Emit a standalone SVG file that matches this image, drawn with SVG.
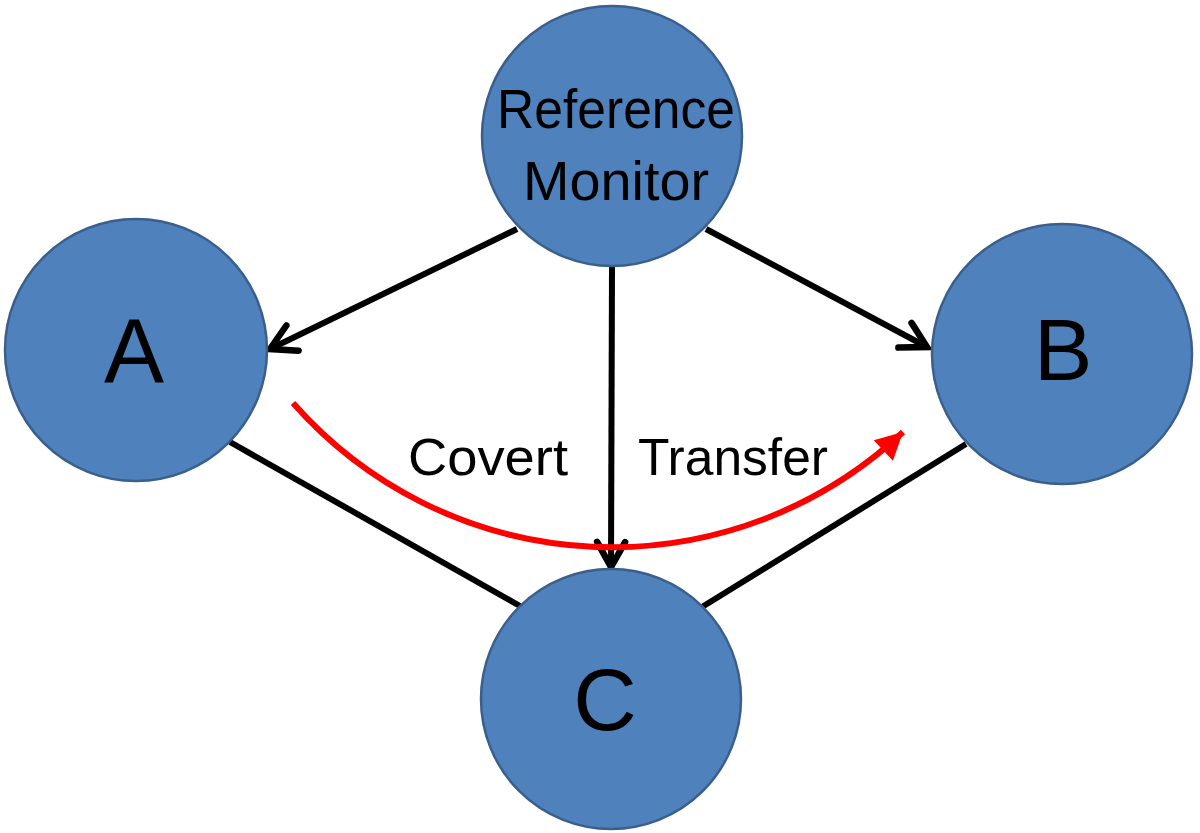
<svg xmlns="http://www.w3.org/2000/svg" width="1200" height="833" viewBox="0 0 1200 833">
<defs>
<style>
.node{fill:#4F81BD;stroke:#3A5F8C;stroke-width:2.5}
.lbl{font-family:"Liberation Sans",Arial,sans-serif;fill:#000;text-anchor:middle}
.edge{stroke:#000;stroke-width:6;fill:none}
.red{stroke:#FF0000;stroke-width:6;fill:none}
</style>
<marker id="ah" markerUnits="userSpaceOnUse" markerWidth="50" markerHeight="50" viewBox="-35 -25 50 50" refX="0" refY="0" orient="auto">
<path d="M-25,-14 L0,0 L-25,14" fill="none" stroke="#000" stroke-width="6.5" stroke-linecap="round" stroke-linejoin="miter"/>
</marker>
<marker id="rh" markerUnits="userSpaceOnUse" markerWidth="50" markerHeight="50" viewBox="-35 -25 50 50" refX="0" refY="0" orient="auto">
<path d="M-27,-14 L0,0 L-27,14 Z" fill="#FF0000"/>
</marker>
</defs>
<rect width="1200" height="833" fill="#fff"/>
<g id="connectors">
<line class="edge" x1="230" y1="442" x2="520" y2="606"/>
<line class="edge" x1="966" y1="444" x2="702" y2="607"/>
<line class="edge" x1="517" y1="229" x2="270" y2="349" marker-end="url(#ah)"/>
<line class="edge" x1="706" y1="229" x2="927" y2="347" marker-end="url(#ah)"/>
<line class="edge" x1="612" y1="267" x2="611" y2="567" marker-end="url(#ah)"/>
<path class="red" d="M293,403 A425,425 0 0 0 903,432" marker-end="url(#rh)"/>
</g>
<g id="node-rm">
<circle class="node" cx="612" cy="136" r="130"/>
<text class="lbl" x="616" y="128" font-size="56" textLength="238" lengthAdjust="spacingAndGlyphs">Reference</text>
<text class="lbl" x="616" y="200" font-size="56" textLength="186" lengthAdjust="spacingAndGlyphs">Monitor</text>
</g>
<g id="node-a">
<circle class="node" cx="136" cy="350" r="131"/>
<text class="lbl" x="134" y="382" font-size="90">A</text>
</g>
<g id="node-b">
<circle class="node" cx="1062" cy="354" r="130"/>
<text class="lbl" x="1063" y="380" font-size="88">B</text>
</g>
<g id="node-c">
<circle class="node" cx="611" cy="699" r="130"/>
<text class="lbl" x="605" y="730" font-size="88">C</text>
</g>
<g id="labels">
<text class="lbl" x="488" y="475" font-size="52" textLength="160" lengthAdjust="spacingAndGlyphs">Covert</text>
<text class="lbl" x="733" y="475" font-size="52" textLength="190" lengthAdjust="spacingAndGlyphs">Transfer</text>
</g>
</svg>
